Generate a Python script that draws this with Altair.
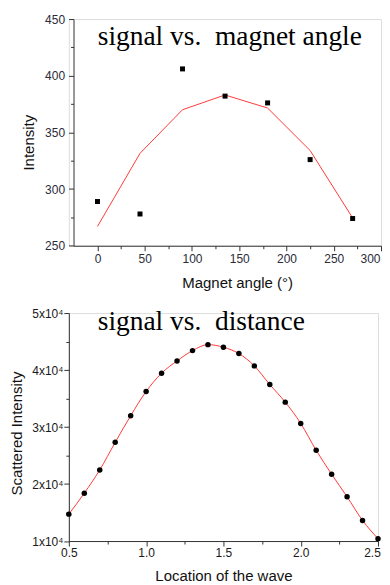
import altair as alt
import pandas as pd

# ---------------- data ----------------
angle = [0, 45, 90, 135, 180, 225, 270]
angle_intensity = [289, 278, 406, 382, 376, 326, 274]
angle_fit = [267, 331.5, 370, 383, 371.5, 334, 274.5]

location = [0.5, 0.6, 0.7, 0.8, 0.9, 1.0, 1.1, 1.2, 1.3, 1.4, 1.5,
            1.6, 1.7, 1.8, 1.9, 2.0, 2.1, 2.2, 2.3, 2.4, 2.5]
scattered = [14720, 18400, 22480, 27320, 31980, 36240, 39450, 41600, 43410, 44460, 44000,
             42890, 40730, 37460, 34370, 30640, 25920, 21720, 17760, 13620, 10410]

top_title = ["signal vs.\u00a0 magnet angle"]
bottom_title = ["signal vs.\u00a0 distance"]

angle_ticks = [0, 25, 50, 75, 100, 125, 150, 175, 200, 225, 250, 275, 300]
intensity_ticks = [250, 275, 300, 325, 350, 375, 400, 425, 450]
location_ticks = [0.5, 0.75, 1.0, 1.25, 1.5, 1.75, 2.0, 2.25, 2.5]
scattered_ticks = [10000, 15000, 20000, 25000, 30000, 35000, 40000, 45000, 50000]

top_df = pd.DataFrame({"angle": angle, "intensity": angle_intensity, "fit": angle_fit})
bot_df = pd.DataFrame({"location": location, "scattered": scattered})

common = dict(domainColor="#333333", tickColor="#333333", domainWidth=1, tickWidth=1,
              grid=False, labelFont="Liberation Sans", labelFontSize=12,
              titleFont="Liberation Sans", titleFontSize=15, titleFontWeight="normal",
              titleColor="#111111", labelFlush=False, labelOverlap=False)

def minor_size(test):
    return {"condition": {"test": test, "value": 3}, "value": 5}

x_top = alt.X("angle:Q", scale=alt.Scale(domain=[-30.3, 300], nice=False, zero=False),
              axis=alt.Axis(values=angle_ticks,
                            labelExpr="datum.value % 50 === 0 ? datum.label : ''",
                            tickSize=minor_size("datum.value % 50 !== 0"),
                            labelOffset={"condition": {"test": "datum.value === 300", "value": -11}, "value": 0},
                            labelPadding=3, labelColor="#2b2b3a",
                            domainDash=[0, 4.7, 1000, 0],
                            title="Magnet angle (°)", titleX=168.7, titleY=41.4,
                            titleBaseline="alphabetic", **common))
y_axis_top = alt.Axis(values=intensity_ticks,
                      labelExpr="datum.value % 50 === 0 ? datum.label : ''",
                      tickSize=minor_size("datum.value % 50 !== 0"),
                      offset=-4.7, labelPadding=4, labelColor="#2b2b3a",
                      title="Intensity", titleAngle=270, titleBaseline="middle",
                      titleX=-45.2, titleY=123.5, **common)
y_scale_top = alt.Scale(domain=[250, 450], nice=False, zero=False)

base_top = alt.Chart(top_df)
top_line = base_top.mark_line(color="#ff3b3b", strokeWidth=1).encode(
    x=x_top, y=alt.Y("fit:Q", scale=y_scale_top, axis=y_axis_top))
top_pts = base_top.mark_square(color="black", size=25, opacity=1).encode(
    x=x_top, y=alt.Y("intensity:Q", scale=y_scale_top, axis=y_axis_top))
top_text = alt.Chart(pd.DataFrame({"t": top_title})).mark_text(
    font="Liberation Serif", fontSize=27.5, align="left", baseline="alphabetic", color="black"
).encode(text="t:N", x=alt.value(29), y=alt.value(26.5))

top = alt.layer(top_line, top_pts, top_text).properties(width=313, height=227.3)

x_bot = alt.X("location:Q", scale=alt.Scale(domain=[0.5, 2.5], nice=False, zero=False),
              axis=alt.Axis(values=location_ticks, format=".1f",
                            labelExpr="(datum.value * 4) % 2 === 0 ? datum.label : ''",
                            tickSize=minor_size("(datum.value * 4) % 2 !== 0"),
                            labelOffset={"condition": {"test": "datum.value === 2.5", "value": -6}, "value": 0},
                            labelPadding=1, labelColor="#1a1a1a",
                            title="Location of the wave", titleY=39.5,
                            titleBaseline="alphabetic", **common))
y_bot = alt.Y("scattered:Q", scale=alt.Scale(domain=[10000, 50000], nice=False, zero=False),
              axis=alt.Axis(values=scattered_ticks,
                            labelExpr="datum.value % 10000 === 0 ? (datum.value / 10000) + 'x10\u2074' : ''",
                            tickSize=minor_size("datum.value % 10000 !== 0"),
                            labelPadding=1, labelColor="#1a1a1a",
                            title="Scattered Intensity", titleAngle=270, titleBaseline="middle",
                            titleX=-52.5, titleY=120.3, **common))

base_bot = alt.Chart(bot_df).encode(x=x_bot, y=y_bot)
bot_line = base_bot.mark_line(color="#ff3b3b", strokeWidth=1, interpolate="monotone")
bot_pts = base_bot.mark_circle(color="black", size=30, opacity=1)
bot_text = alt.Chart(pd.DataFrame({"t": bottom_title})).mark_text(
    font="Liberation Serif", fontSize=27.5, align="left", baseline="alphabetic", color="black"
).encode(text="t:N", x=alt.value(29), y=alt.value(17.3))

bottom = alt.layer(bot_line, bot_pts, bot_text).properties(width=310, height=228.6)

chart = alt.vconcat(top, bottom, spacing=14.8).properties(
    padding={"left": 0, "top": 3.3, "right": 0, "bottom": 0}
).configure_view(strokeOpacity=0).configure(background="white")

chart.save("out.html", embed_options={"renderer": "svg", "actions": False})
